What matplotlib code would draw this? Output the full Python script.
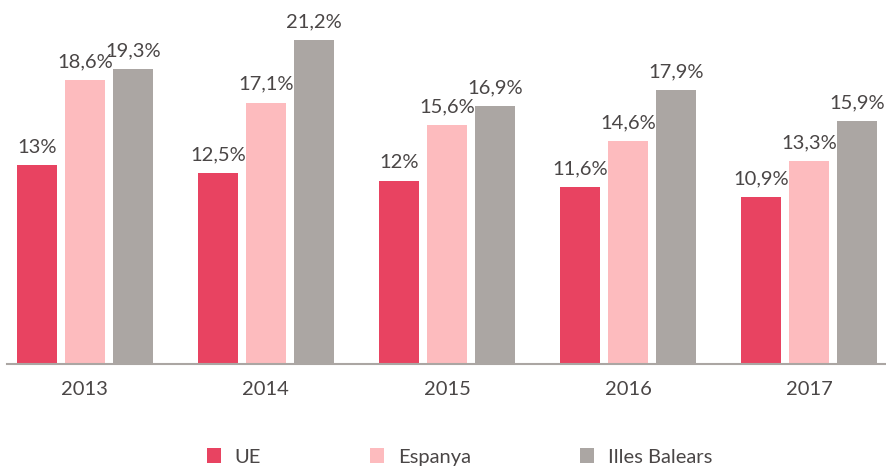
import matplotlib
matplotlib.use("Agg")
import matplotlib.pyplot as plt
import numpy as np

years = ["2013", "2014", "2015", "2016", "2017"]
series_names = ["UE", "Espanya", "Illes Balears"]
ue = [13.0, 12.5, 12.0, 11.6, 10.9]
espanya = [18.6, 17.1, 15.6, 14.6, 13.3]
balears = [19.3, 21.2, 16.9, 17.9, 15.9]
colors = ["#E84361", "#FDBBBE", "#ABA6A3"]

plt.rcParams['font.family'] = ['Lato', 'DejaVu Sans']
fig = plt.figure(figsize=(8.87, 4.69), dpi=100)
ax = fig.add_axes([7/887, (469-364)/469, 880/887, 344/469])

x = np.arange(len(years))
w = 0.221
off = 0.265
txtc = "#4a4646"
fs = 14.5

def fmt(v):
    s = ("%.1f" % v).replace(".", ",")
    if s.endswith(",0"):
        s = s[:-2]
    return s + "%"

handles = []
for i, (vals, name) in enumerate(zip([ue, espanya, balears], series_names)):
    b = ax.bar(x + (i - 1) * off, vals, width=w, color=colors[i], label=name)
    handles.append(b)
    for xi, v in zip(x + (i - 1) * off, vals):
        ax.annotate(fmt(v), (xi, v), xytext=(0, 7), textcoords="offset points",
                    ha="center", va="bottom", fontsize=fs, color=txtc)

ax.set_xlim(-0.43, 4.43)
ax.set_ylim(0, 22.5)
ax.set_xticks(x)
ax.set_xticklabels(years, fontsize=fs, color=txtc)
ax.tick_params(axis="x", length=0, pad=12)
ax.set_yticks([])
for s in ["top", "right", "left"]:
    ax.spines[s].set_visible(False)
ax.spines["bottom"].set_color("#ABA6A3")
ax.spines["bottom"].set_linewidth(1.5)

leg = fig.legend(handles=handles, labels=series_names, loc="center",
                 bbox_to_anchor=(0.518, 1 - 457/469), ncol=3, frameon=False,
                 fontsize=fs, handlelength=0.7, handleheight=0.7,
                 handletextpad=0.7, columnspacing=5.4)
for t in leg.get_texts():
    t.set_color(txtc)

fig.savefig("out.png", dpi=100)
